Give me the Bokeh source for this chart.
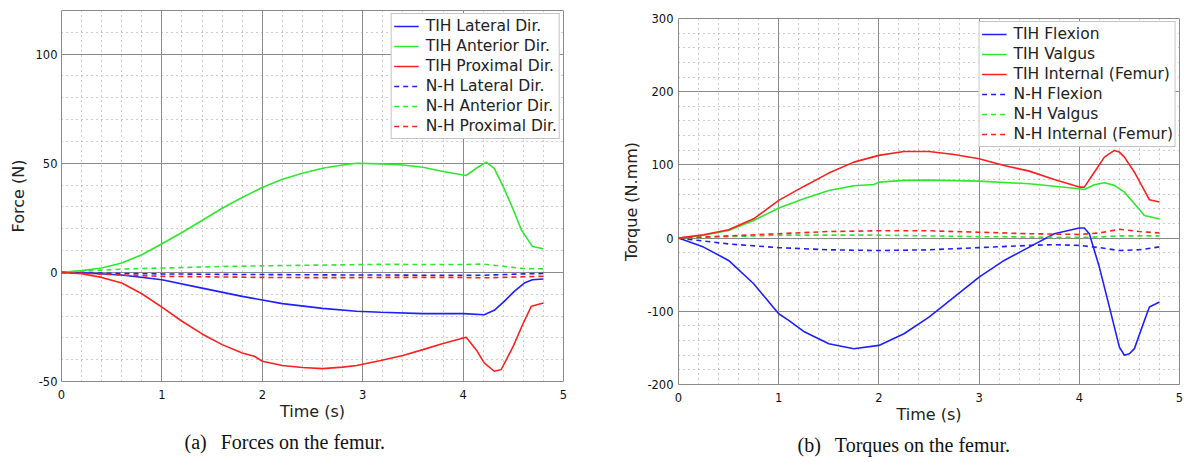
from bokeh.plotting import figure
from bokeh.models import FixedTicker, Range1d, Title, Spacer
from bokeh.layouts import row, column
from bokeh.embed import file_html
from bokeh.resources import INLINE

# ---------------- Data: forces (left) ----------------
t_ant = [0, 0.2, 0.4, 0.6, 0.8, 1.0, 1.2, 1.4, 1.6, 1.8, 2.0, 2.2, 2.4, 2.6, 2.8, 2.94, 3.18, 3.4, 3.6, 3.8, 4.03, 4.13, 4.23, 4.31, 4.4, 4.5, 4.58, 4.69, 4.8]
f_ant = [0, 0.8, 2.0, 4.3, 8.1, 13.1, 18.3, 23.8, 29.4, 34.3, 38.9, 42.7, 45.4, 47.7, 49.2, 50.0, 49.7, 49.2, 48.2, 46.2, 44.4, 47.7, 50.5, 47.7, 39.3, 28.7, 19.5, 11.9, 10.8]

t_prox = [0, 0.2, 0.4, 0.6, 0.8, 1.0, 1.2, 1.4, 1.6, 1.8, 1.92, 2.0, 2.2, 2.4, 2.6, 2.8, 2.94, 3.18, 3.4, 3.6, 3.8, 4.03, 4.13, 4.21, 4.31, 4.38, 4.5, 4.6, 4.68, 4.8]
f_prox = [0, -0.6, -2.3, -4.9, -9.8, -15.9, -22.4, -28.2, -33.1, -36.9, -38.4, -40.7, -42.7, -43.6, -44.1, -43.4, -42.7, -40.4, -38.1, -35.4, -32.6, -29.7, -35.4, -41.5, -45.3, -44.5, -33.8, -23.2, -15.5, -14.0]

t_lat = [0, 0.2, 0.6, 1.0, 1.4, 1.8, 2.2, 2.6, 2.94, 3.18, 3.6, 4.0, 4.21, 4.31, 4.41, 4.51, 4.61, 4.69, 4.8]
f_lat = [0, -0.2, -1.2, -3.4, -7.2, -11.0, -14.3, -16.5, -17.8, -18.3, -18.9, -18.9, -19.4, -17.4, -13.3, -8.7, -4.9, -3.4, -3.0]

t_nh_f = [0, 0.2, 0.6, 1.0, 1.6, 2.0, 2.5, 2.9, 3.2, 3.6, 4.0, 4.2, 4.4, 4.6, 4.8]
f_nh_lat = [0, -0.2, -0.5, -0.7, -0.9, -1.0, -1.1, -1.2, -1.2, -1.3, -1.3, -1.3, -1.0, -0.7, -0.5]
f_nh_ant = [0, 0.5, 1.5, 2.0, 2.7, 3.0, 3.3, 3.5, 3.7, 3.6, 3.6, 3.8, 2.8, 1.8, 1.6]
f_nh_prox = [0, -0.4, -1.2, -1.8, -2.1, -2.3, -2.4, -2.4, -2.3, -2.3, -2.3, -2.5, -2.3, -2.0, -1.8]

# ---------------- Data: torques (right) ----------------
t_int = [0, 0.25, 0.5, 0.75, 1.0, 1.25, 1.5, 1.75, 2.0, 2.25, 2.5, 2.75, 3.0, 3.25, 3.5, 3.75, 4.0, 4.05, 4.15, 4.25, 4.35, 4.4, 4.45, 4.55, 4.65, 4.7, 4.8]
m_int = [0, 4.6, 11.4, 26.4, 51.5, 70.6, 88.8, 103.8, 113.0, 118.4, 118.4, 114.3, 108.4, 99.3, 91.5, 80.1, 69.7, 69.7, 90.0, 110.7, 119.8, 117.5, 110.7, 90.0, 65.0, 52.4, 49.2]

t_val = [0, 0.25, 0.5, 0.75, 1.0, 1.25, 1.5, 1.75, 1.95, 2.0, 2.25, 2.5, 3.0, 3.5, 4.0, 4.05, 4.15, 4.25, 4.35, 4.45, 4.55, 4.65, 4.8]
m_val = [0, 4.0, 10.5, 24.0, 41.0, 53.7, 65.0, 71.5, 73.3, 76.5, 78.8, 79.2, 77.9, 74.2, 67.4, 66.5, 72.9, 75.6, 72.0, 62.8, 46.9, 31.0, 26.0]

t_flex = [0, 0.25, 0.5, 0.75, 1.0, 1.1, 1.25, 1.5, 1.75, 2.0, 2.25, 2.5, 2.75, 3.0, 3.25, 3.5, 3.75, 4.0, 4.05, 4.1, 4.2, 4.3, 4.4, 4.45, 4.5, 4.55, 4.65, 4.7, 4.8]
m_flex = [0, -12.3, -30.5, -62.4, -103.4, -112.5, -127.5, -144.4, -151.2, -146.6, -130.7, -107.9, -80.6, -53.3, -30.5, -12.3, 5.9, 13.7, 13.7, 5.9, -39.6, -94.0, -149.0, -160.0, -158.0, -151.0, -112.5, -94.0, -87.4]

t_nh_m = [0, 0.5, 1.0, 1.5, 2.0, 2.5, 3.0, 3.5, 3.75, 4.0, 4.2, 4.4, 4.6, 4.8]
m_nh_flex = [0, -8, -13, -16, -17, -16, -13, -10, -9, -10, -13, -17, -16, -12]
m_nh_val = [0, 2, 4, 4, 4, 3, 2, 1.5, 1, 1, 1.5, 3, 3, 3]
m_nh_int = [0, 3, 6, 9, 10, 10, 8, 6, 5.5, 5, 7, 12, 9, 7]

x_major = [0, 1, 2, 3, 4, 5]
x_minor = [i * 0.2 for i in range(26)]
yl_major = [-50, 0, 50, 100]
yl_minor = list(range(-50, 121, 10))
yr_major = [-200, -100, 0, 100, 200, 300]
yr_minor = list(range(-200, 301, 20))

BLUE = "#1f1fff"
GREEN = "#2ee82e"
RED = "#ff1f1f"
FONT = "DejaVu Sans"


def style(p, xt, xm, yt, ym, y_tick_standoff, y_label_standoff):
    p.xaxis.ticker = FixedTicker(ticks=xt, minor_ticks=xm)
    p.yaxis.ticker = FixedTicker(ticks=yt, minor_ticks=ym)
    p.yaxis.major_label_overrides = {v: str(v) for v in yt}
    for ax in (p.xaxis[0], p.yaxis[0]):
        ax.axis_line_color = None
        ax.major_tick_line_color = None
        ax.minor_tick_line_color = None
        ax.major_tick_out = 0
        ax.major_tick_in = 0
        ax.minor_tick_out = 0
        ax.minor_tick_in = 0
        ax.major_label_text_font = FONT
        ax.major_label_text_font_size = "11.5px"
        ax.major_label_text_color = "#111111"
        ax.axis_label_text_font = FONT
        ax.axis_label_text_font_size = "16px"
        ax.axis_label_text_font_style = "normal"
        ax.axis_label_text_color = "#222222"
    p.xaxis.major_label_standoff = 8
    p.yaxis.major_label_standoff = y_tick_standoff
    p.xaxis.axis_label_standoff = 0
    p.yaxis.axis_label_standoff = y_label_standoff
    for g in (p.xgrid[0], p.ygrid[0]):
        g.grid_line_color = "#8a8a8a"
        g.grid_line_width = 1
        g.minor_grid_line_color = "#9a9a9a"
        g.minor_grid_line_dash = "1 4"
        g.minor_grid_line_width = 1
    p.outline_line_color = "#8a8a8a"
    p.outline_line_width = 1
    p.background_fill_color = "white"
    p.border_fill_color = "white"


def legend_style(p):
    lg = p.legend[0]
    lg.location = "top_right"
    lg.margin = 3
    lg.padding = 2
    lg.spacing = 0
    lg.label_height = 20
    lg.glyph_height = 20
    lg.glyph_width = 25
    lg.label_standoff = 7
    lg.label_text_font = FONT
    lg.label_text_font_size = "15.5px"
    lg.label_text_color = "#222222"
    lg.border_line_color = "#8a8a8a"
    lg.border_line_width = 1
    lg.background_fill_alpha = 1.0


W = 1.6
DASH = "5 4"

# ---------------- Left figure (page origin at 0,0) ----------------
p1 = figure(width=600, height=462, min_border_left=61, min_border_right=37,
            min_border_top=10, min_border_bottom=81,
            x_range=Range1d(0, 5), y_range=Range1d(-50, 120),
            output_backend="svg", toolbar_location=None,
            x_axis_label="Time (s)", y_axis_label="Force (N)")
style(p1, x_major, x_minor, yl_major, yl_minor, 4, 5)
p1.line(t_lat, f_lat, color=BLUE, line_width=W, legend_label="TIH Lateral Dir.")
p1.line(t_ant, f_ant, color=GREEN, line_width=W, legend_label="TIH Anterior Dir.")
p1.line(t_prox, f_prox, color=RED, line_width=W, legend_label="TIH Proximal Dir.")
p1.line(t_nh_f, f_nh_lat, color=BLUE, line_width=W, line_dash=DASH, legend_label="N-H Lateral Dir.")
p1.line(t_nh_f, f_nh_ant, color=GREEN, line_width=W, line_dash=DASH, legend_label="N-H Anterior Dir.")
p1.line(t_nh_f, f_nh_prox, color=RED, line_width=W, line_dash=DASH, legend_label="N-H Proximal Dir.")
legend_style(p1)
cap1 = Title(text="(a)\u2002\u2009Forces on the femur.", align="left", text_font="Liberation Serif",
             text_font_size="20px", text_font_style="normal", text_color="#111111",
             offset=123, standoff=11)
p1.add_layout(cap1, "below")

# ---------------- Right figure ----------------
p2 = figure(width=584, height=454, min_border_left=78, min_border_right=5,
            min_border_top=10, min_border_bottom=78,
            x_range=Range1d(0, 5), y_range=Range1d(-200, 300),
            output_backend="svg", toolbar_location=None,
            x_axis_label="Time (s)", y_axis_label="Torque (N.mm)")
style(p2, x_major, x_minor, yr_major, yr_minor, 5, 3)
p2.line(t_flex, m_flex, color=BLUE, line_width=W, legend_label="TIH Flexion")
p2.line(t_val, m_val, color=GREEN, line_width=W, legend_label="TIH Valgus")
p2.line(t_int, m_int, color=RED, line_width=W, legend_label="TIH Internal (Femur)")
p2.line(t_nh_m, m_nh_flex, color=BLUE, line_width=W, line_dash=DASH, legend_label="N-H Flexion")
p2.line(t_nh_m, m_nh_val, color=GREEN, line_width=W, line_dash=DASH, legend_label="N-H Valgus")
p2.line(t_nh_m, m_nh_int, color=RED, line_width=W, line_dash=DASH, legend_label="N-H Internal (Femur)")
legend_style(p2)
cap2 = Title(text="(b)\u2002\u2009Torques on the femur.", align="left", text_font="Liberation Serif",
             text_font_size="20px", text_font_style="normal", text_color="#111111",
             offset=119, standoff=11)
p2.add_layout(cap2, "below")

layout = row(p1, column(Spacer(width=584, height=8), p2, spacing=0), spacing=0)
open("out.html", "w").write(file_html(layout, INLINE))
